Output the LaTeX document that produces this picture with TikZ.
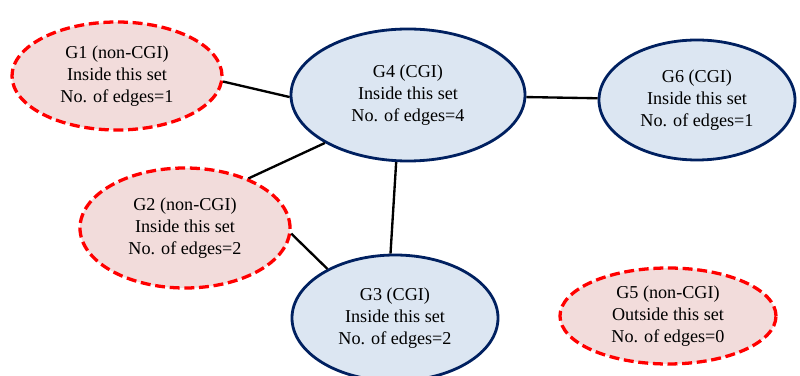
\documentclass[tikz,border=0pt]{standalone}
\usepackage{fontspec}
\setmainfont{Liberation Serif}
\usepackage{xcolor}
\usetikzlibrary{shapes.geometric}

\begin{document}
\begin{tikzpicture}[x=0.03cm,y=-0.03cm,
  grp/.style={ellipse,align=center,inner sep=0pt,font=\fontsize{15.5}{18.5}\selectfont},
  noncgi/.style={grp,draw=ncred,fill=ncfill,line width=2.8pt,dash pattern=on 8.5pt off 4pt},
  cgi/.style={grp,draw=cgiblue,fill=cgifill,line width=2.4pt},
  link/.style={black,line width=2pt}]
\definecolor{ncred}{HTML}{FF0000}
\definecolor{ncfill}{HTML}{F2DCDB}
\definecolor{cgiblue}{HTML}{002060}
\definecolor{cgifill}{HTML}{DCE6F2}
\useasboundingbox (0,0) rectangle (800,376);

% the six groups
\node[noncgi,minimum width=6.3cm,minimum height=3.24cm] (g1) at (117,76) {G1 (non-CGI)\\Inside this set\\No. of edges=1};
\node[cgi,minimum width=7.02cm,minimum height=3.96cm] (g4) at (408,95) {G4 (CGI)\\Inside this set\\No. of edges=4};
\node[cgi,minimum width=5.88cm,minimum height=3.6cm] (g6) at (697,100) {G6 (CGI)\\Inside this set\\No. of edges=1};
\node[noncgi,minimum width=6.3cm,minimum height=3.6cm] (g2) at (185,228) {G2 (non-CGI)\\Inside this set\\No. of edges=2};
\node[cgi,minimum width=6.18cm,minimum height=3.78cm] (g3) at (395,318) {G3 (CGI)\\Inside this set\\No. of edges=2};
\node[noncgi,minimum width=6.48cm,minimum height=2.88cm] (g5) at (668,316) {G5 (non-CGI)\\Outside this set\\No. of edges=0};

% connections
\draw[link] (g1.-3) -- (g4.181);
\draw[link] (g4.210) -- (g2.38);
\draw[link] (g4.260) -- (g3.94);
\draw[link] (g2.-3) -- (g3.144);
\draw[link] (g4.-1.5) -- (g6.179);
\end{tikzpicture}
\end{document}
